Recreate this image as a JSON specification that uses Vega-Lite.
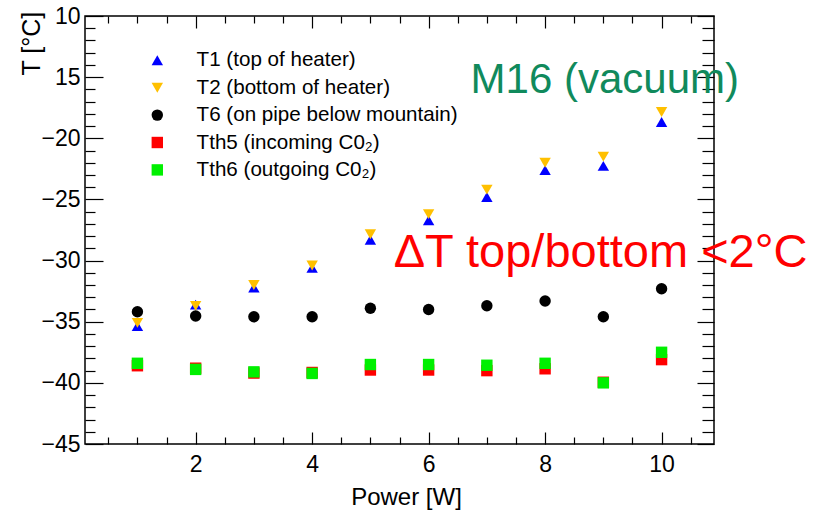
{
  "$schema": "https://vega.github.io/schema/vega-lite/v6.json",
  "width": 629,
  "height": 428,
  "autosize": "none",
  "padding": {"left": 85, "top": 16, "right": 100, "bottom": 66},
  "background": "white",
  "config": {
    "font": "Liberation Sans",
    "view": {"stroke": "#000000", "strokeWidth": 1.5},
    "axis": {"grid": false, "domain": false, "tickColor": "#000000", "tickWidth": 1.2, "labelColor": "#000000", "titleColor": "#000000", "labelFont": "Liberation Sans", "titleFont": "Liberation Sans", "titleFontWeight": "normal", "offset": 0}
  },
  "datasets": {
    "pts": [
      {"power": 1, "series": "T1 (top of heater)", "temp": -35.35},
      {"power": 2, "series": "T1 (top of heater)", "temp": -33.6},
      {"power": 3, "series": "T1 (top of heater)", "temp": -32.2},
      {"power": 4, "series": "T1 (top of heater)", "temp": -30.6},
      {"power": 5, "series": "T1 (top of heater)", "temp": -28.3},
      {"power": 6, "series": "T1 (top of heater)", "temp": -26.7},
      {"power": 7, "series": "T1 (top of heater)", "temp": -24.8},
      {"power": 8, "series": "T1 (top of heater)", "temp": -22.6},
      {"power": 9, "series": "T1 (top of heater)", "temp": -22.26},
      {"power": 10, "series": "T1 (top of heater)", "temp": -18.67},
      {"power": 1, "series": "T2 (bottom of heater)", "temp": -35.1},
      {"power": 2, "series": "T2 (bottom of heater)", "temp": -33.7},
      {"power": 3, "series": "T2 (bottom of heater)", "temp": -32.0},
      {"power": 4, "series": "T2 (bottom of heater)", "temp": -30.4},
      {"power": 5, "series": "T2 (bottom of heater)", "temp": -27.85},
      {"power": 6, "series": "T2 (bottom of heater)", "temp": -26.2},
      {"power": 7, "series": "T2 (bottom of heater)", "temp": -24.2},
      {"power": 8, "series": "T2 (bottom of heater)", "temp": -22.0},
      {"power": 9, "series": "T2 (bottom of heater)", "temp": -21.5},
      {"power": 10, "series": "T2 (bottom of heater)", "temp": -17.85},
      {"power": 1, "series": "T6 (on pipe below mountain)", "temp": -34.18},
      {"power": 2, "series": "T6 (on pipe below mountain)", "temp": -34.53},
      {"power": 3, "series": "T6 (on pipe below mountain)", "temp": -34.6},
      {"power": 4, "series": "T6 (on pipe below mountain)", "temp": -34.6},
      {"power": 5, "series": "T6 (on pipe below mountain)", "temp": -33.9},
      {"power": 6, "series": "T6 (on pipe below mountain)", "temp": -34.0},
      {"power": 7, "series": "T6 (on pipe below mountain)", "temp": -33.7},
      {"power": 8, "series": "T6 (on pipe below mountain)", "temp": -33.3},
      {"power": 9, "series": "T6 (on pipe below mountain)", "temp": -34.6},
      {"power": 10, "series": "T6 (on pipe below mountain)", "temp": -32.3},
      {"power": 1, "series": "Tth5 (incoming C0₂)", "temp": -38.6},
      {"power": 2, "series": "Tth5 (incoming C0₂)", "temp": -38.8},
      {"power": 3, "series": "Tth5 (incoming C0₂)", "temp": -39.2},
      {"power": 4, "series": "Tth5 (incoming C0₂)", "temp": -39.15},
      {"power": 5, "series": "Tth5 (incoming C0₂)", "temp": -38.95},
      {"power": 6, "series": "Tth5 (incoming C0₂)", "temp": -38.95},
      {"power": 7, "series": "Tth5 (incoming C0₂)", "temp": -39.0},
      {"power": 8, "series": "Tth5 (incoming C0₂)", "temp": -38.85},
      {"power": 9, "series": "Tth5 (incoming C0₂)", "temp": -39.95},
      {"power": 10, "series": "Tth5 (incoming C0₂)", "temp": -38.1},
      {"power": 1, "series": "Tth6 (outgoing C0₂)", "temp": -38.4},
      {"power": 2, "series": "Tth6 (outgoing C0₂)", "temp": -38.9},
      {"power": 3, "series": "Tth6 (outgoing C0₂)", "temp": -39.1},
      {"power": 4, "series": "Tth6 (outgoing C0₂)", "temp": -39.23},
      {"power": 5, "series": "Tth6 (outgoing C0₂)", "temp": -38.5},
      {"power": 6, "series": "Tth6 (outgoing C0₂)", "temp": -38.5},
      {"power": 7, "series": "Tth6 (outgoing C0₂)", "temp": -38.56},
      {"power": 8, "series": "Tth6 (outgoing C0₂)", "temp": -38.4},
      {"power": 9, "series": "Tth6 (outgoing C0₂)", "temp": -40.0},
      {"power": 10, "series": "Tth6 (outgoing C0₂)", "temp": -37.5}
    ]
  },
  "layer": [
    {
      "data": {"name": "pts"},
      "mark": {"type": "point", "filled": true, "opacity": 1, "size": 130, "strokeWidth": 0},
      "encoding": {
        "x": {"field": "power", "type": "quantitative", "scale": {"domain": [0.1, 10.9], "nice": false, "zero": false},
          "axis": {"orient": "bottom", "values": [2, 4, 6, 8, 10], "ticks": false, "labelFontSize": 23, "labelPadding": 9, "title": "Power [W]", "titleFontSize": 24, "titlePadding": 9, "titleX": 321}},
        "y": {"field": "temp", "type": "quantitative", "scale": {"domain": [-45, -10], "nice": false, "zero": false},
          "axis": {"orient": "left", "values": [-45, -40, -35, -30, -25, -20, -15, -10], "ticks": false, "labelFontSize": 23, "labelPadding": 5, "labelExpr": "datum.value > -20 ? format(-datum.value, 'd') : datum.label", "labelOverlap": false, "labelFlush": false,
            "title": "T [°C]", "titleFontSize": 25, "titleAnchor": null, "titleX": -54, "titleY": 59, "titleAlign": "left", "titleBaseline": "middle", "titleAngle": -90}},
        "color": {"field": "series", "type": "nominal",
          "scale": {"domain": ["T1 (top of heater)", "T2 (bottom of heater)", "T6 (on pipe below mountain)", "Tth5 (incoming C0₂)", "Tth6 (outgoing C0₂)"],
            "range": ["#0000ff", "#ffc000", "#000000", "#ff0000", "#00f000"]},
          "legend": {"orient": "none", "legendX": 62, "legendY": 34, "title": null, "padding": 0, "labelFontSize": 20.6, "labelColor": "#000000", "labelOffset": 29, "rowPadding": 6.4, "symbolSize": 130, "symbolStrokeWidth": 0, "symbolOpacity": 1, "labelLimit": 400}},
        "shape": {"field": "series", "type": "nominal",
          "scale": {"domain": ["T1 (top of heater)", "T2 (bottom of heater)", "T6 (on pipe below mountain)", "Tth5 (incoming C0₂)", "Tth6 (outgoing C0₂)"],
            "range": ["triangle-up", "triangle-down", "circle", "square", "square"]}}
      }
    },
    {
      "data": {"name": "pts"},
      "mark": {"type": "point", "opacity": 0},
      "encoding": {
        "x": {"field": "power", "type": "quantitative", "axis": {"orient": "bottom", "values": [2, 4, 6, 8, 10], "tickSize": -12, "labels": false, "title": null}},
        "y": {"field": "temp", "type": "quantitative", "axis": {"orient": "left", "values": [-45, -40, -35, -30, -25, -20, -15, -10], "tickSize": -18, "labels": false, "title": null}}
      }
    },
    {
      "data": {"name": "pts"},
      "mark": {"type": "point", "opacity": 0},
      "encoding": {
        "x": {"field": "power", "type": "quantitative", "axis": {"orient": "bottom", "values": [0.5, 1, 1.5, 2.5, 3, 3.5, 4.5, 5, 5.5, 6.5, 7, 7.5, 8.5, 9, 9.5, 10.5], "tickSize": -7, "labels": false, "title": null}},
        "y": {"field": "temp", "type": "quantitative", "axis": {"orient": "left", "values": [-44, -43, -42, -41, -39, -38, -37, -36, -34, -33, -32, -31, -29, -28, -27, -26, -24, -23, -22, -21, -19, -18, -17, -16, -14, -13, -12, -11], "tickSize": -10, "labels": false, "title": null}}
      }
    },
    {
      "data": {"values": [{"px": 6.72, "py": -16.32, "note": "M16 (vacuum)"}]},
      "mark": {"type": "text", "align": "left", "baseline": "alphabetic", "fontSize": 42, "color": "#108a5c", "font": "Liberation Sans"},
      "encoding": {
        "x": {"field": "px", "type": "quantitative", "axis": {"orient": "top", "values": [2, 4, 6, 8, 10], "tickSize": -12, "labels": false, "title": null}},
        "y": {"field": "py", "type": "quantitative", "axis": {"orient": "right", "values": [-45, -40, -35, -30, -25, -20, -15, -10], "tickSize": -17, "labels": false, "title": null}},
        "text": {"field": "note"}
      }
    },
    {
      "data": {"values": [{"px": 5.4, "py": -30.5, "note": "ΔT top/bottom <2°C"}]},
      "mark": {"type": "text", "align": "left", "baseline": "alphabetic", "fontSize": 47, "color": "#ff0000", "font": "Liberation Sans"},
      "encoding": {
        "x": {"field": "px", "type": "quantitative", "axis": {"orient": "top", "values": [0.5, 1, 1.5, 2.5, 3, 3.5, 4.5, 5, 5.5, 6.5, 7, 7.5, 8.5, 9, 9.5, 10.5], "tickSize": -7, "labels": false, "title": null}},
        "y": {"field": "py", "type": "quantitative", "axis": {"orient": "right", "values": [-44, -43, -42, -41, -39, -38, -37, -36, -34, -33, -32, -31, -29, -28, -27, -26, -24, -23, -22, -21, -19, -18, -17, -16, -14, -13, -12, -11], "tickSize": -12, "labels": false, "title": null}},
        "text": {"field": "note"}
      }
    }
  ],
  "resolve": {"axis": {"x": "independent", "y": "independent"}}
}
